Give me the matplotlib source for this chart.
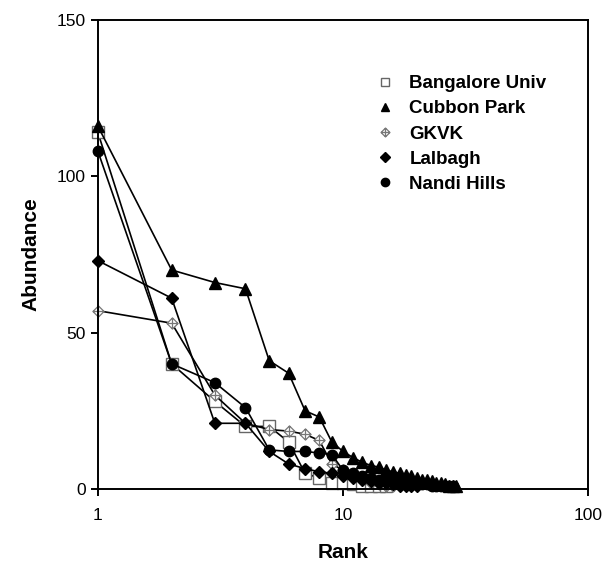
import matplotlib.pyplot as plt
from matplotlib.path import Path

plt.rcParams['font.family'] = ['Liberation Sans', 'DejaVu Sans']

# abundance by rank (rank = position in list, starting at 1)
bangalore = [114, 40, 28, 20, 20, 15, 5, 3.5, 2, 2, 1.5, 1, 1, 1, 1]
cubbon = [116, 70, 66, 64, 41, 37, 25, 23, 15, 12, 10, 8.5, 7.5, 7, 6, 5.5,
          5, 4.5, 4, 3.5, 3, 3, 2.5, 2, 2, 1.5, 1, 1, 1]
gkvk = [57, 53, 30, 21, 19, 18.5, 17.5, 15.5, 8, 6, 4, 3, 2, 1.5, 1, 1]
lalbagh = [73, 61, 21, 21, 12, 8, 6.5, 5.5, 5, 4, 3.5, 3, 2.5, 2, 2, 1.5,
           1, 1, 1, 1]
nandi = [108, 40, 34, 26, 12.5, 12, 12, 11.5, 11, 6, 5, 4, 3.5, 3, 3, 2.5,
         2.5, 2, 2, 2, 1.5, 1.5, 1, 1, 1, 1, 1, 1]
labels = ['Bangalore Univ', 'Cubbon Park', 'GKVK', 'Lalbagh', 'Nandi Hills']

# diamond with a cross inside (GKVK marker)
verts = [(0, 1), (1, 0), (0, -1), (-1, 0), (0, 1),
         (0, 1), (0, -1), (-1, 0), (1, 0)]
codes = [Path.MOVETO, Path.LINETO, Path.LINETO, Path.LINETO, Path.CLOSEPOLY,
         Path.MOVETO, Path.LINETO, Path.MOVETO, Path.LINETO]
cross_diamond = Path(verts, codes)

fig = plt.figure(figsize=(6.04, 5.64), dpi=100)
ax = fig.add_axes([0.162, 0.133, 0.812, 0.832])

styles = [
    dict(marker='s', ms=8, mfc='white', mec='#666666', mew=1.0),
    dict(marker='^', ms=8, mfc='black', mec='black'),
    dict(marker=cross_diamond, ms=8, mfc='white', mec='#777777', mew=0.9),
    dict(marker='D', ms=6, mfc='black', mec='black'),
    dict(marker='o', ms=7.5, mfc='black', mec='black'),
]
series = [bangalore, cubbon, gkvk, lalbagh, nandi]

for vals, lab, st in zip(series, labels, styles):
    ranks = list(range(1, len(vals) + 1))
    ax.plot(ranks, vals, color='black', lw=1.2, label=lab, clip_on=False, **st)

ax.set_xscale('log')
ax.set_xlim(1, 100)
ax.set_ylim(0, 150)
ax.set_xticks([1, 10, 100])
ax.set_xticklabels(['1', '10', '100'])
ax.minorticks_off()
ax.set_yticks([0, 50, 100, 150])

for s in ax.spines.values():
    s.set_linewidth(1.4)
ax.tick_params(direction='out', length=5, width=1.4, labelsize=12.5)
ax.tick_params(axis='x', pad=9)

ax.set_xlabel('Rank', fontsize=15, fontweight='bold', labelpad=14)
ax.set_ylabel('Abundance', fontsize=15, fontweight='bold', labelpad=12)

ax.legend(loc='upper left', bbox_to_anchor=(0.555, 0.898), frameon=False,
          prop={'size': 13.5, 'weight': 'bold'}, handlelength=0.8,
          handletextpad=0.9, labelspacing=0.43, markerscale=0.8,
          borderaxespad=0)
for line in ax.get_legend().get_lines():
    line.set_linestyle('none')

fig.savefig('out.png', dpi=100)
